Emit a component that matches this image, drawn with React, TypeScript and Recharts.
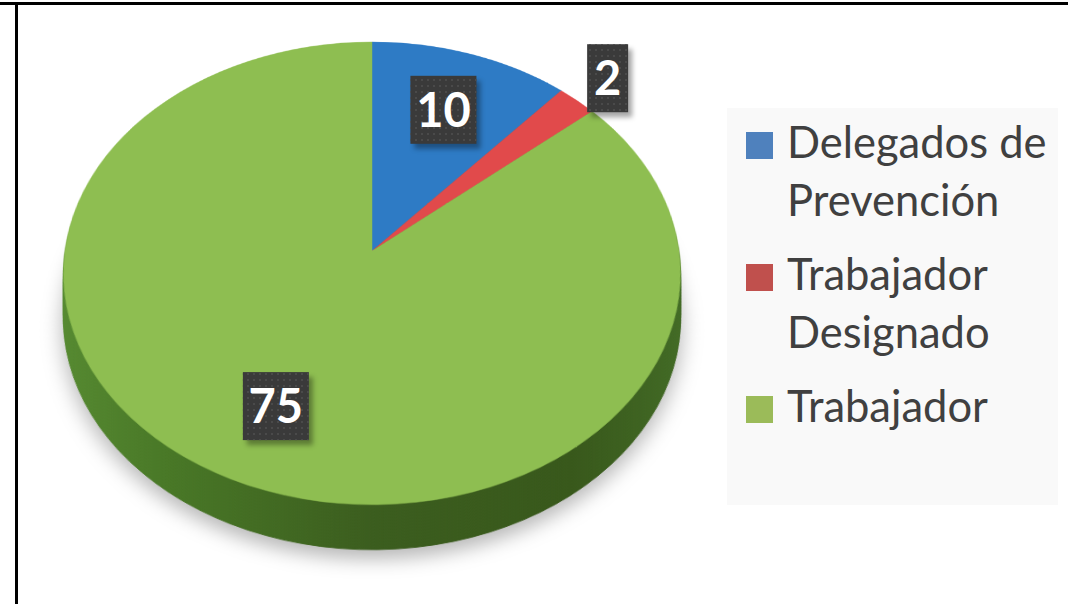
import React from 'react';
import { PieChart, Pie, Cell } from 'recharts';

const categories = ['Delegados de Prevención', 'Trabajador Designado', 'Trabajador'];
const values = [10, 2, 75];
const topColors = ['#2e7bc5', '#e14a4b', '#8ebe51'];
const legendColors = ['#4f81bd', '#c0504d', '#9bbb59'];

const data = categories.map((name, i) => ({ name, value: values[i] }));

// 3D projection settings
const R = 307;
const PERSP = 2121;
const TILT = 41.7;
const DEPTH = 45;
const STEP = 3;
const BOX = 640;
const VX = 372;
const VY = 251;
const cosT = Math.cos((TILT * Math.PI) / 180);
const sinT = Math.sin((TILT * Math.PI) / 180);

const depthLayers: number[] = [];
for (let d = DEPTH; d >= STEP; d -= STEP) depthLayers.push(d);

const layerStyle = (d: number): React.CSSProperties => ({
  position: 'absolute',
  left: VX - BOX / 2,
  top: VY - BOX / 2,
  width: BOX,
  height: BOX,
  transformOrigin: `${BOX / 2}px ${BOX / 2}px`,
  transform: `translateY(${d}px) perspective(${PERSP}px) rotateX(${TILT}deg)`,
});

const PieLayer = ({ d, side }: { d: number; side: boolean }) => (
  <div
    style={{
      ...layerStyle(d),
      filter: d === DEPTH ? 'drop-shadow(0px 10px 10px rgba(0,0,0,0.28))' : undefined,
    }}
  >
    <PieChart width={BOX} height={BOX} margin={{ top: 0, right: 0, bottom: 0, left: 0 }}>
      <defs>
        <linearGradient id="sideGrad" gradientUnits="userSpaceOnUse" x1={BOX / 2 - R} y1={0} x2={BOX / 2 + R} y2={0}>
          <stop offset="0" stopColor="#568a31" />
          <stop offset="0.2" stopColor="#487726" />
          <stop offset="0.5" stopColor="#3b5d1e" />
          <stop offset="0.8" stopColor="#38581b" />
          <stop offset="1" stopColor="#426b25" />
        </linearGradient>
      </defs>
      <Pie
        data={data}
        dataKey="value"
        nameKey="name"
        cx={BOX / 2}
        cy={BOX / 2}
        outerRadius={R}
        startAngle={90}
        endAngle={-270}
        stroke="none"
        isAnimationActive={false}
      >
        {data.map((_, i) => (
          <Cell key={i} fill={side ? 'url(#sideGrad)' : topColors[i]} stroke={side ? 'url(#sideGrad)' : topColors[i]} strokeWidth={side ? 1 : 0.5} />
        ))}
      </Pie>
    </PieChart>
  </div>
);

const renderLabel = (props: any) => {
  const { cx, cy, midAngle, outerRadius, percent, value } = props;
  const f = percent < 0.05 ? 1.16 : 0.7;
  const r = outerRadius * f;
  const a = (midAngle * Math.PI) / 180;
  const X = r * Math.cos(a);
  const Y = -r * Math.sin(a);
  const z = Y * sinT;
  const k = PERSP / (PERSP - z);
  const x = cx + X * k;
  const y = cy + Y * cosT * k;
  const txt = String(value);
  const w = 16 + 25 * txt.length;
  const h = 68;
  return (
    <g>
      <rect x={x - w / 2 + 4} y={y - h / 2 + 5} width={w} height={h} fill="rgba(0,0,0,0.35)" filter="url(#lblBlur)" />
      <rect x={x - w / 2} y={y - h / 2} width={w} height={h} fill="#3a3a3a" />
      <rect x={x - w / 2} y={y - h / 2} width={w} height={h} fill="url(#dotPat)" />
      <text
        x={x}
        y={y + 17}
        textAnchor="middle"
        fill="#ffffff"
        fontFamily="Lato, 'Open Sans', sans-serif"
        fontWeight={700}
        fontSize={47}
      >
        {txt}
      </text>
    </g>
  );
};

export default function App() {
  return (
    <div style={{ position: 'relative', width: 1068, height: 604, overflow: 'hidden', background: '#ffffff' }}>
      <style>{`body{margin:0;}`}</style>
      {depthLayers.map((d) => (
        <PieLayer key={d} d={d} side={true} />
      ))}
      <PieLayer d={0} side={false} />

      <div style={{ position: 'absolute', left: 0, top: 0 }}>
        <PieChart width={1068} height={604} margin={{ top: 0, right: 0, bottom: 0, left: 0 }}>
          <defs>
            <filter id="lblBlur" x="-30%" y="-30%" width="160%" height="160%">
              <feGaussianBlur stdDeviation="2.5" />
            </filter>
            <pattern id="dotPat" width="6" height="6" patternUnits="userSpaceOnUse">
              <rect x="1" y="1" width="2" height="2" fill="#4a4a4a" />
            </pattern>
          </defs>
          <Pie
            data={data}
            dataKey="value"
            nameKey="name"
            cx={VX}
            cy={VY}
            outerRadius={R}
            startAngle={90}
            endAngle={-270}
            fill="none"
            stroke="none"
            label={renderLabel}
            labelLine={false}
            isAnimationActive={false}
          >
            {data.map((_, i) => (
              <Cell key={i} fill="none" stroke="none" />
            ))}
          </Pie>
        </PieChart>
      </div>

      {/* legend */}
      <div
        style={{
          position: 'absolute',
          left: 727,
          top: 108,
          width: 331,
          height: 397,
          background: '#f9f9f9',
          boxSizing: 'border-box',
          paddingTop: 4,
          display: 'flex',
          flexDirection: 'column',
          gap: 16,
          fontFamily: "Lato, 'Open Sans', sans-serif",
          fontSize: 43.5,
          lineHeight: '58px',
          color: '#404040',
        }}
      >
        {categories.map((c, i) => (
          <div key={c} style={{ display: 'flex', alignItems: 'flex-start' }}>
            <div style={{ width: 27, height: 27, marginTop: 20, marginLeft: 19, background: legendColors[i], flex: 'none' }} />
            <div style={{ marginLeft: 14, width: 268, minHeight: 116 }}>{c}</div>
          </div>
        ))}
      </div>

      {/* frame lines */}
      <div style={{ position: 'absolute', left: 0, top: 2, width: 1068, height: 3, background: '#000' }} />
      <div style={{ position: 'absolute', left: 15, top: 2, width: 3, height: 602, background: '#000' }} />
    </div>
  );
}
